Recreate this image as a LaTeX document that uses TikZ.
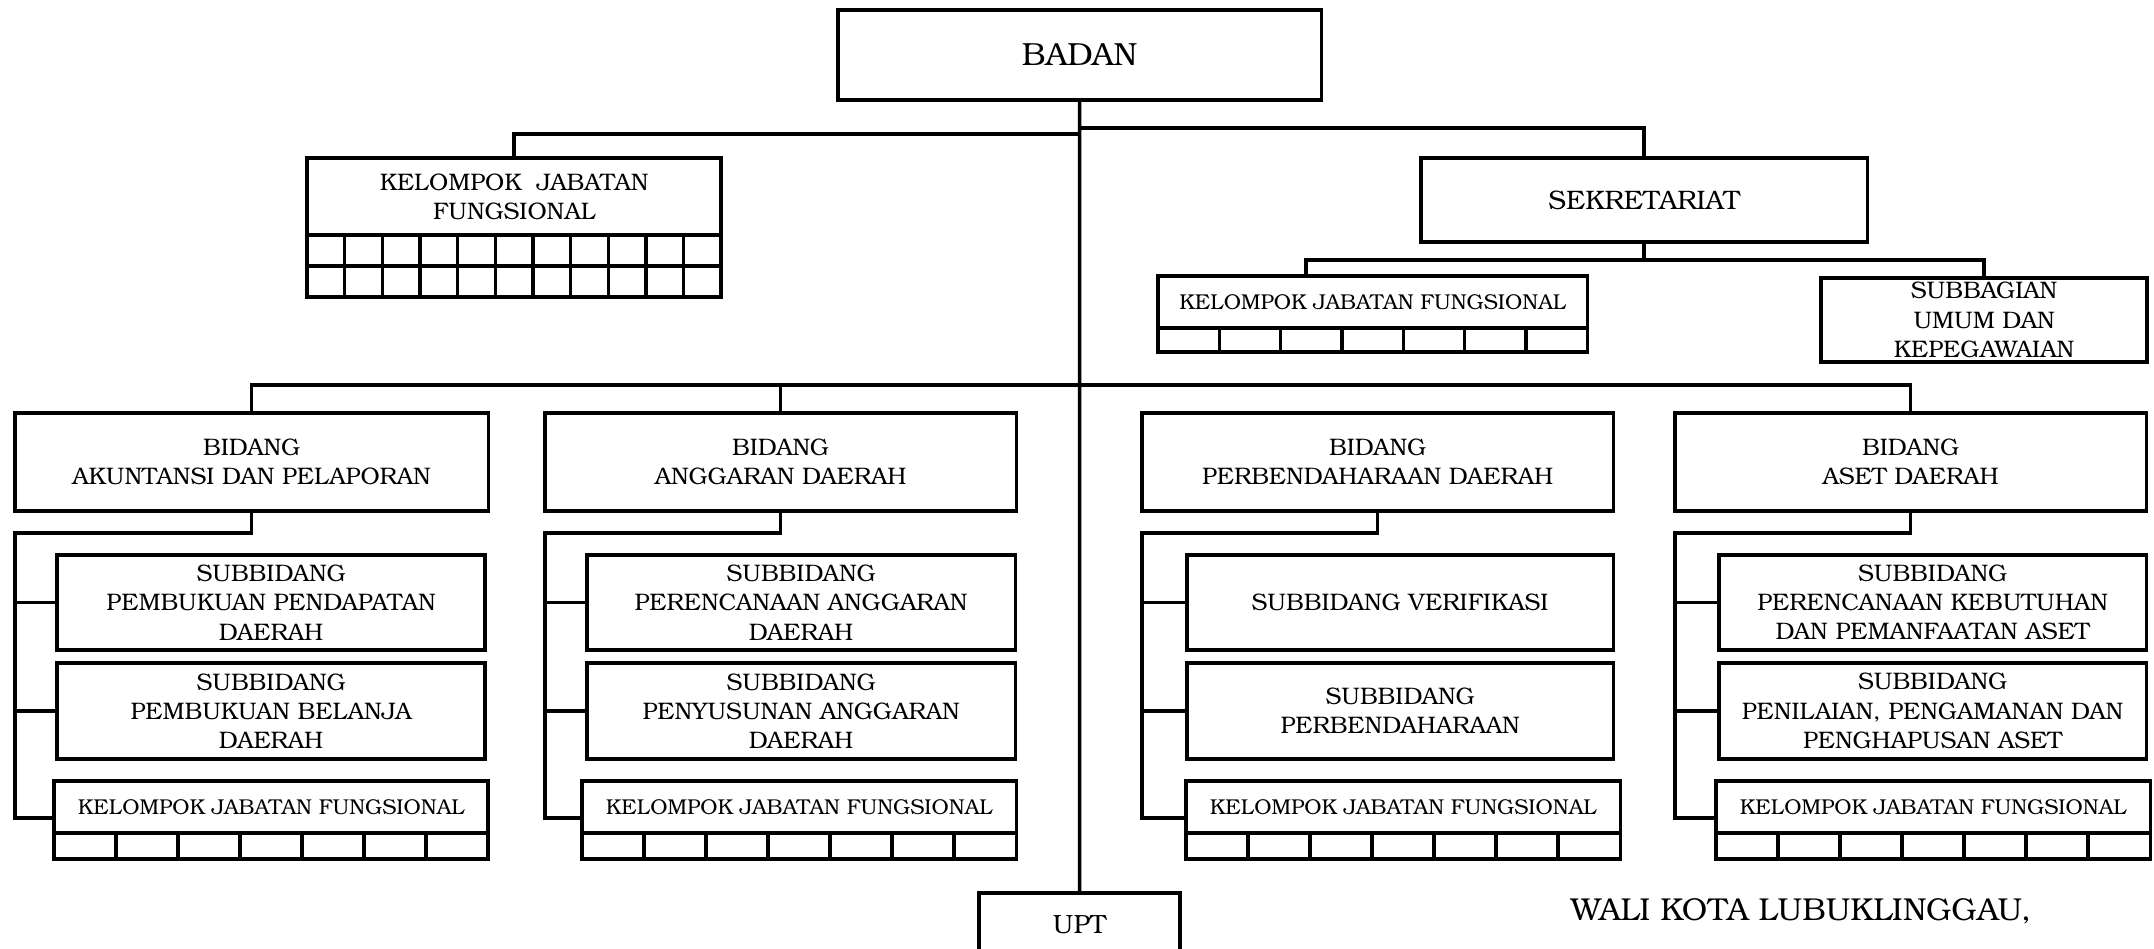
\documentclass[tikz,border=0pt]{standalone}
\usepackage{fontspec}
\setmainfont{TeX Gyre Bonum}
\usetikzlibrary{calc}

\tikzset{
  unit/.style={draw, line width=1pt, align=center, inner sep=0pt, outer sep=0pt, anchor=north west,
    font=\fontsize{6.8}{8.3}\selectfont},
  kjfbox/.style={unit, font=\fontsize{6.1}{7.4}\selectfont},
  link/.style={line width=1pt},
}

\begin{document}
\begin{tikzpicture}[x=0.01cm, y=-0.01cm]
 \useasboundingbox (0,0) rectangle (2154,948);

 % Badan at the top, UPT at the bottom
 \node [unit, minimum width=4.83cm, minimum height=0.90cm, font=\fontsize{9.1}{11}\selectfont] (badan) at (838,10) {BADAN};
 \node [unit, minimum width=2.01cm, minimum height=0.64cm, font=\fontsize{7.5}{9}\selectfont] (upt) at (979,893) {UPT};
 \draw [link] (badan.south) -- (upt.north);

 % Kelompok jabatan fungsional under the badan
 \node [unit, minimum width=4.14cm, minimum height=0.77cm] (kjf0) at (307,158) {KELOMPOK~ JABATAN\\FUNGSIONAL};
 \draw [link] (kjf0.north) -- ++(0,-24) -| (badan.south);
 \draw [link] (kjf0.south west) rectangle ($(kjf0.south east)+(0,62)$);
 \draw [link] ($(kjf0.south west)+(0,31)$) -- ($(kjf0.south east)+(0,31)$);
 \foreach \k in {1,...,10}
   \draw [link] ($(kjf0.south west)!\k/11!(kjf0.south east)$) -- ++(0,62);

 % Sekretariat
 \node [unit, minimum width=4.46cm, minimum height=0.84cm, font=\fontsize{7.6}{9}\selectfont] (sek) at (1421,158) {SEKRETARIAT};
 \draw [link] (sek.north) -- ++(0,-30) -| (badan.south);

 % Children of the sekretariat
 \node [kjfbox, minimum width=4.29cm, minimum height=0.52cm] (kjfs) at (1158,276) {KELOMPOK JABATAN FUNGSIONAL};
 \node [unit, minimum width=3.26cm, minimum height=0.84cm] (subbag) at (1821,278) {SUBBAGIAN\\UMUM DAN\\KEPEGAWAIAN};
 \coordinate (sk) at (1306,260);
 \draw [link] (sek.south) |- (sk) -- (sk |- kjfs.north);
 \draw [link] (sek.south) |- (subbag.north |- sk) -- (subbag.north);

 % Bidang row
 \node [unit, minimum width=4.73cm, minimum height=0.98cm] (bid1) at (15,413) {BIDANG\\AKUNTANSI DAN PELAPORAN};
 \node [unit, minimum width=4.71cm, minimum height=0.98cm] (bid2) at (545,413) {BIDANG\\ANGGARAN DAERAH};
 \node [unit, minimum width=4.71cm, minimum height=0.98cm] (bid3) at (1142,413) {BIDANG\\PERBENDAHARAAN DAERAH};
 \node [unit, minimum width=4.71cm, minimum height=0.98cm] (bid4) at (1675,413) {BIDANG\\ASET DAERAH};
 \coordinate (bl) at (1080,385);
 \draw [link] (bid1.north) |- (bid4.north |- bl) -- (bid4.north);
 \draw [link] (bid2.north) -- (bid2.north |- bl);

 % Subbidang of each bidang
 \node [unit, minimum width=4.28cm, minimum height=0.95cm] (suba1) at (57,555) {SUBBIDANG\\PEMBUKUAN PENDAPATAN\\DAERAH};
 \node [unit, minimum width=4.28cm, minimum height=0.96cm] (subb1) at (57,663) {SUBBIDANG\\PEMBUKUAN BELANJA\\DAERAH};
 \node [kjfbox, minimum width=4.34cm, minimum height=0.52cm] (kjf1) at (54,781) {KELOMPOK JABATAN FUNGSIONAL};

 \node [unit, minimum width=4.28cm, minimum height=0.95cm] (suba2) at (587,555) {SUBBIDANG\\PERENCANAAN ANGGARAN\\DAERAH};
 \node [unit, minimum width=4.28cm, minimum height=0.96cm] (subb2) at (587,663) {SUBBIDANG\\PENYUSUNAN ANGGARAN\\DAERAH};
 \node [kjfbox, minimum width=4.34cm, minimum height=0.52cm] (kjf2) at (582,781) {KELOMPOK JABATAN FUNGSIONAL};

 \node [unit, minimum width=4.26cm, minimum height=0.95cm] (suba3) at (1187,555) {SUBBIDANG VERIFIKASI};
 \node [unit, minimum width=4.26cm, minimum height=0.96cm] (subb3) at (1187,663) {SUBBIDANG\\PERBENDAHARAAN};
 \node [kjfbox, minimum width=4.34cm, minimum height=0.52cm] (kjf3) at (1186,781) {KELOMPOK JABATAN FUNGSIONAL};

 \node [unit, minimum width=4.27cm, minimum height=0.95cm] (suba4) at (1719,555) {SUBBIDANG\\PERENCANAAN KEBUTUHAN\\DAN PEMANFAATAN ASET};
 \node [unit, minimum width=4.27cm, minimum height=0.96cm] (subb4) at (1719,663) {SUBBIDANG\\PENILAIAN, PENGAMANAN DAN\\PENGHAPUSAN ASET};
 \node [kjfbox, minimum width=4.34cm, minimum height=0.52cm] (kjf4) at (1716,781) {KELOMPOK JABATAN FUNGSIONAL};

 % Connectors from each bidang down its left side
 \foreach \i in {1,...,4}{
   \draw [link] (bid\i.south) |- (bid\i.west |- 0,533) -- (bid\i.west |- 0,818) -- (kjf\i.west |- 0,818);
   \draw [link] (suba\i.west) -- (suba\i.west -| bid\i.west);
   \draw [link] (subb\i.west) -- (subb\i.west -| bid\i.west);
 }

 % Cells under each kelompok jabatan fungsional
 \foreach \n/\h in {kjf1/26, kjf2/26, kjf3/26, kjf4/26, kjfs/24}{
   \draw [link] (\n.south west) rectangle ($(\n.south east)+(0,\h)$);
   \foreach \k in {1,...,6}
     \draw [link] ($(\n.south west)!\k/7!(\n.south east)$) -- ++(0,\h);
 }

 % Signature line
 \node [font=\fontsize{9.0}{11}\selectfont, inner sep=0pt] (wali) at (1801,911) {WALI KOTA LUBUKLINGGAU,};

\end{tikzpicture}
\end{document}
